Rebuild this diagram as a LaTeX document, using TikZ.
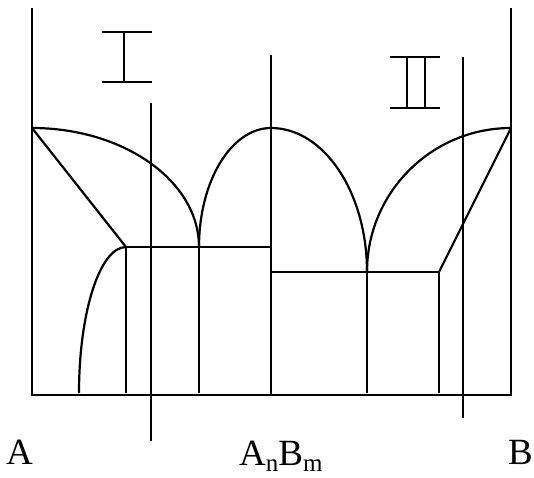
\documentclass[tikz,border=0pt]{standalone}
\usepackage{fontspec}
\setmainfont{Liberation Serif}
\begin{document}
\begin{tikzpicture}[x=1pt,y=-1pt,
  ln/.style={line width=2.2pt,line cap=butt},
  lbl/.style={inner sep=0pt,font=\fontsize{37}{40}\selectfont}]
\useasboundingbox (0,0) rectangle (534,477);
% key points
\coordinate (Atop) at (32,8);
\coordinate (A) at (32,128);
\coordinate (A0) at (32,395);
\coordinate (Btop) at (511,8);
\coordinate (B) at (511,128);
\coordinate (B0) at (511,395);
\coordinate (E1) at (199,247);
\coordinate (P1) at (126,247);
\coordinate (M) at (271,128);
\coordinate (Mtop) at (271,55);
\coordinate (Mmid) at (271,247);
\coordinate (Mlow) at (271,272);
\coordinate (M0) at (271,395);
\coordinate (E2) at (367,272);
\coordinate (P2) at (439,272);
\coordinate (S1) at (79,393);
% frame
\draw[ln] (Atop) -- (A0) -- (B0) -- (Btop);
% left liquidus and solidus
\draw[ln] (A) .. controls (124.2,128) and (199,181.3) .. (E1);
\draw[ln] (A) -- (P1);
\draw[ln] (S1) .. controls (79,311.9) and (100,247) .. (P1);
\draw[ln] (P1) -- (Mmid);
\draw[ln] (P1) -- (126,393);
\draw[ln] (E1) -- (199,393);
% middle dome
\draw[ln] (E1) .. controls (199,181.3) and (231.2,128) .. (M);
\draw[ln] (M) .. controls (324,128) and (367,192.5) .. (E2);
\draw[ln] (Mtop) -- (M0);
% right side
\draw[ln] (Mlow) -- (P2);
\draw[ln] (E2) .. controls (367,192.5) and (431.5,128) .. (B);
\draw[ln] (P2) -- (B);
\draw[ln] (E2) -- (367,393);
\draw[ln] (P2) -- (439,393);
% composition lines I and II
\draw[ln] (151,103) -- (151,441);
\draw[ln] (463,57) -- (463,418);
% numerals
\draw[ln] (102,32) -- (152,32) (124,32) -- (124,82) (102,82) -- (152,82);
\draw[ln] (390,57) -- (440,57) (407,57) -- (407,108) (425,57) -- (425,108) (390,108) -- (440,108);
% labels
\node[lbl,anchor=base west] (la) at (6,464) {A};
\node[lbl,anchor=base east] (lb) at (533,464) {B};
\node[lbl,anchor=base west] (lab) at (239,465) {A\raisebox{-6pt}{\fontsize{25}{26}\selectfont n}B\raisebox{-6pt}{\fontsize{25}{26}\selectfont m}};
\end{tikzpicture}
\end{document}
